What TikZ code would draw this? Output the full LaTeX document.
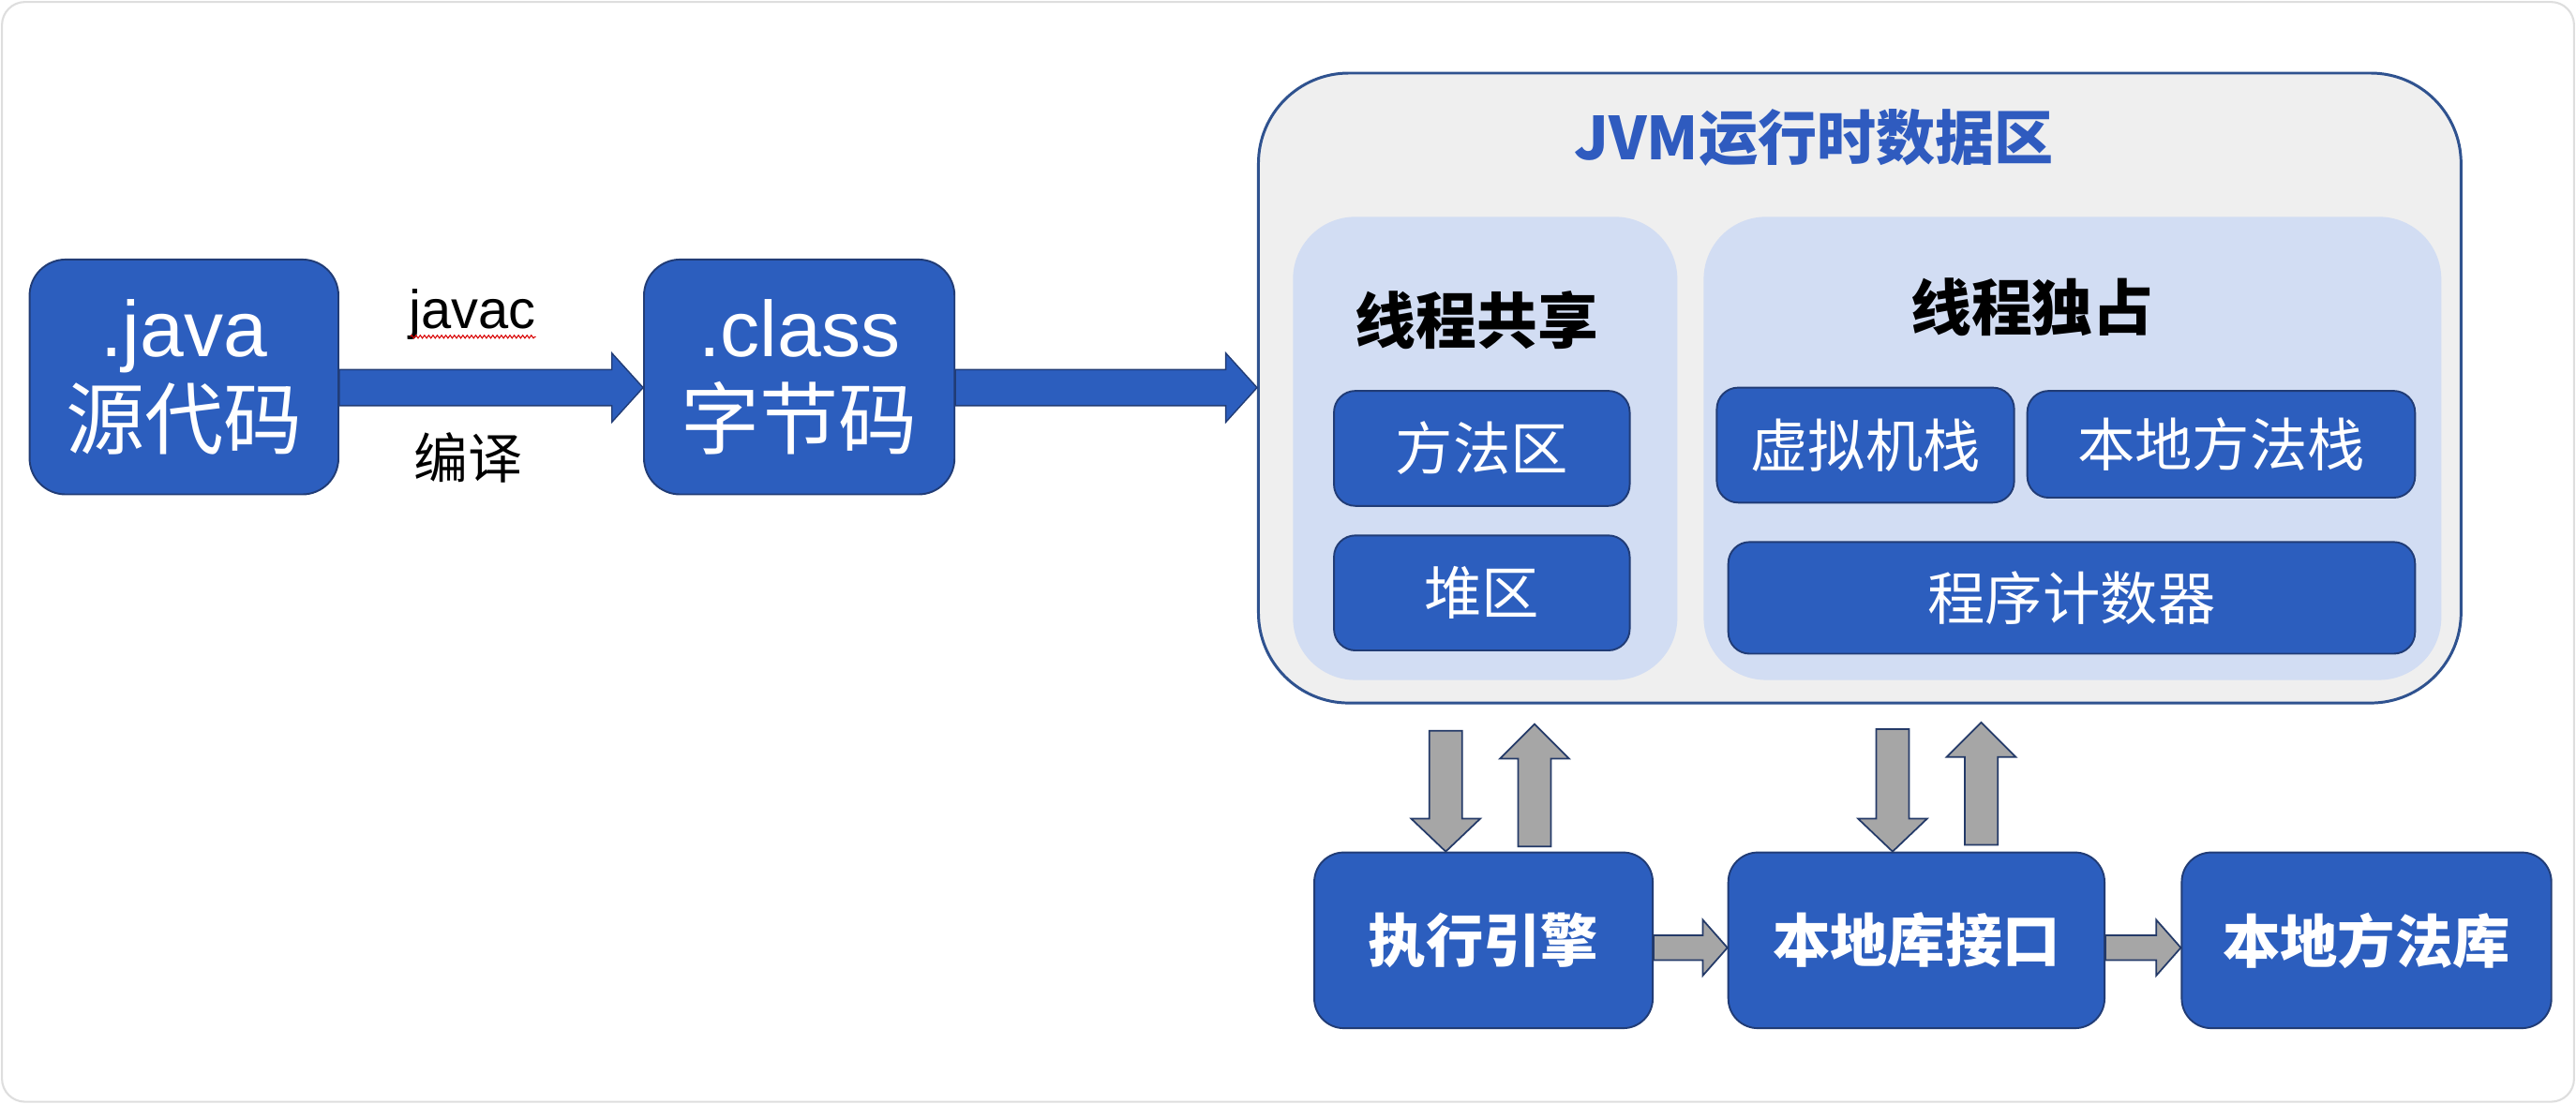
\documentclass[tikz,border=0pt]{standalone}
\usepackage{fontspec}
\setmainfont{Noto Sans CJK SC}
\newfontfamily\latinfont{Liberation Sans}
\usetikzlibrary{calc,decorations.pathmorphing}

\definecolor{boxblue}{RGB}{44,94,190}
\definecolor{boxedge}{RGB}{33,60,118}
\definecolor{jvmfill}{RGB}{239,239,239}
\definecolor{jvmedge}{RGB}{47,82,143}
\definecolor{panelfill}{RGB}{210,221,243}
\definecolor{titleblue}{RGB}{47,91,191}
\definecolor{arrowgray}{RGB}{166,166,166}
\definecolor{arrowedge}{RGB}{36,58,104}
\definecolor{framegray}{RGB}{222,222,222}

% block arrows drawn between two points: #1 style, #2 start, #3 tip,
% #4 half shaft width, #5 half head width, #6 head length
\newcommand\rightblock[6]{%
  \filldraw[#1] let \p1=#2, \p2=#3 in
    (\x1,\y1+#4) -- (\x2-#6,\y1+#4) -- (\x2-#6,\y1+#5) -- (\x2,\y1)
    -- (\x2-#6,\y1-#5) -- (\x2-#6,\y1-#4) -- (\x1,\y1-#4) -- cycle;}
\newcommand\downblock[6]{%
  \filldraw[#1] let \p1=#2, \p2=#3 in
    (\x1-#4,\y1) -- (\x1-#4,\y2+#6) -- (\x1-#5,\y2+#6) -- (\x1,\y2)
    -- (\x1+#5,\y2+#6) -- (\x1+#4,\y2+#6) -- (\x1+#4,\y1) -- cycle;}
\newcommand\upblock[6]{%
  \filldraw[#1] let \p1=#2, \p2=#3 in
    (\x1-#4,\y1) -- (\x1-#4,\y2-#6) -- (\x1-#5,\y2-#6) -- (\x1,\y2)
    -- (\x1+#5,\y2-#6) -- (\x1+#4,\y2-#6) -- (\x1+#4,\y1) -- cycle;}

\tikzset{
  bluebox/.style={draw=boxedge, fill=boxblue, line width=1.1pt, text=white,
    inner sep=0pt, align=center},
  bigbox/.style={bluebox, rounded corners=22pt,
    font=\fontsize{48}{56}\selectfont},
  smallbox/.style={bluebox, rounded corners=13pt,
    font=\fontsize{35}{40}\selectfont},
  bottombox/.style={bluebox, rounded corners=18pt,
    font=\bfseries\fontsize{35}{40}\selectfont},
  panel/.style={fill=panelfill, rounded corners=38pt, inner sep=0pt},
  paneltitle/.style={font=\bfseries\fontsize{37}{42}\selectfont, text=black},
  plainlabel/.style={inner sep=0pt, font=\fontsize{33}{38}\selectfont},
  bluearrow/.style={fill=boxblue, draw=boxedge, line width=0.8pt},
  grayarrow/.style={fill=arrowgray, draw=arrowedge, line width=1pt},
}

\begin{document}
\begin{tikzpicture}[x=1pt,y=-1pt]
\useasboundingbox (0,0) rectangle (1568,672);
% page frame
\draw[framegray, fill=white, line width=1.2pt, rounded corners=14pt]
  (1.2,1.2) rectangle (1566.8,670.8);

% source and bytecode
\node[bigbox, minimum width=188pt, minimum height=143pt] (java) at (112,229.5)
  {{\latinfont .java}\\源代码};
\node[bigbox, minimum width=189pt, minimum height=143pt] (class) at (486.5,229.5)
  {{\latinfont .class}\\字节码};

\node[plainlabel, anchor=base] (javac) at (287.5,200) {\latinfont javac};
\node[plainlabel, anchor=base] (compile) at (285,291) {编译};
\draw[red!85!black, line width=0.6pt, decorate,
  decoration={snake, amplitude=0.9pt, segment length=2.6pt}]
  ($(javac.base west)+(1,5)$) -- ($(javac.base east)+(0,5)$);

% runtime data area
\node[draw=jvmedge, fill=jvmfill, line width=1.7pt, rounded corners=55pt,
  minimum width=732pt, minimum height=383.5pt, inner sep=0pt] (jvm) at (1132,236.25) {};
\node[font=\bfseries\fontsize{36}{40}\selectfont, text=titleblue] (title) at (1104,84)
  {JVM运行时数据区};

\node[panel, minimum width=234pt, minimum height=282pt] (shared) at (904,273) {};
\node[panel, minimum width=449pt, minimum height=282pt] (private) at (1261.5,273) {};
\node[paneltitle] (sharedtitle) at (899,195) {线程共享};
\node[paneltitle] (privatetitle) at (1237,187) {线程独占};

\node[smallbox, minimum width=180pt, minimum height=70pt] (method) at (902,273) {方法区};
\node[smallbox, minimum width=180pt, minimum height=70pt] (heap) at (902,361) {堆区};
\node[smallbox, minimum width=181pt, minimum height=70pt] (vmstack) at (1135.5,271) {虚拟机栈};
\node[smallbox, minimum width=236pt, minimum height=65pt] (nstack) at (1352,270.5) {本地方法栈};
\node[smallbox, minimum width=418pt, minimum height=68pt] (pc) at (1261,364) {程序计数器};

% execution side
\node[bottombox, minimum width=206pt, minimum height=107pt] (engine) at (903,572.5) {执行引擎};
\node[bottombox, minimum width=229pt, minimum height=107pt] (iface) at (1166.5,572.5) {本地库接口};
\node[bottombox, minimum width=225pt, minimum height=107pt] (nlib) at (1440.5,572.5) {本地方法库};

% blue flow arrows
\rightblock{bluearrow}{(java.east |- 0,236)}{(class.west |- 0,236)}{11pt}{21pt}{19pt}
\rightblock{bluearrow}{(class.east |- 0,236)}{(jvm.west |- 0,236)}{11pt}{21pt}{19pt}

% gray arrows between the data area and the engine / interface
\downblock{grayarrow}{($(jvm.south -| 880,0)+(0,16)$)}{(engine.north -| 880,0)}{10pt}{21pt}{20pt}
\upblock{grayarrow}{($(engine.north -| 934,0)+(0,-3)$)}{($(jvm.south -| 934,0)+(0,12)$)}{10pt}{21pt}{21pt}
\downblock{grayarrow}{($(jvm.south -| 1152,0)+(0,15)$)}{(iface.north -| 1152,0)}{10pt}{21pt}{20pt}
\upblock{grayarrow}{($(iface.north -| 1206,0)+(0,-4)$)}{($(jvm.south -| 1206,0)+(0,11)$)}{10pt}{21pt}{21pt}

\rightblock{grayarrow}{(engine.east |- 0,577)}{(iface.west |- 0,577)}{7.5pt}{17pt}{15pt}
\rightblock{grayarrow}{(iface.east |- 0,577)}{(nlib.west |- 0,577)}{7.5pt}{17pt}{15pt}
\end{tikzpicture}
\end{document}
